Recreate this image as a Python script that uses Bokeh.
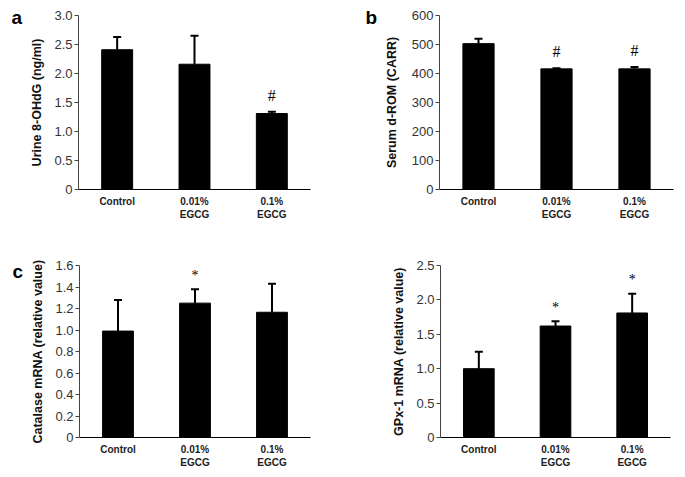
from bokeh.plotting import figure
from bokeh.layouts import column, row
from bokeh.models import ColumnDataSource, Whisker, TeeHead, FixedTicker, FactorRange, Range1d
from bokeh.embed import file_html
from bokeh.resources import INLINE

groups = ["Control", "0.01%\nEGCG", "0.1%\nEGCG"]

a_mean = [2.41, 2.16, 1.31]
a_err = [0.22, 0.49, 0.03]
a_sig = ["", "", "#"]
a_ticks = [0, 0.5, 1.0, 1.5, 2.0, 2.5, 3.0]
a_tick_labels = ["0", "0.5", "1.0", "1.5", "2.0", "2.5", "3.0"]

b_mean = [503, 416, 416]
b_err = [17, 2, 6]
b_sig = ["", "#", "#"]
b_ticks = [0, 100, 200, 300, 400, 500, 600]
b_tick_labels = ["0", "100", "200", "300", "400", "500", "600"]

c_mean = [0.99, 1.25, 1.165]
c_err = [0.29, 0.13, 0.265]
c_sig = ["", "*", ""]
c_ticks = [0, 0.2, 0.4, 0.6, 0.8, 1.0, 1.2, 1.4, 1.6]
c_tick_labels = ["0", "0.2", "0.4", "0.6", "0.8", "1.0", "1.2", "1.4", "1.6"]

d_mean = [1.00, 1.62, 1.81]
d_err = [0.245, 0.07, 0.28]
d_sig = ["", "*", "*"]
d_ticks = [0, 0.5, 1.0, 1.5, 2.0, 2.5]
d_tick_labels = ["0", "0.5", "1.0", "1.5", "2.0", "2.5"]

FONT = "Liberation Sans"


def panel(mean, err, sig, ticks, tick_labels, ylabel, letter, width, height,
          bl, br, bt, bb, label_standoff, sig_offset, sig_size, letter_dx, letter_standoff):
    upper = [m + e for m, e in zip(mean, err)]
    src = ColumnDataSource(dict(x=groups, top=mean, upper=upper, sig=sig))
    p = figure(x_range=FactorRange(*groups, range_padding=0),
               y_range=Range1d(ticks[0], ticks[-1]),
               width=width, height=height, output_backend="svg",
               toolbar_location=None, min_border_left=bl, min_border_right=br,
               min_border_top=bt, min_border_bottom=bb)
    p.outline_line_color = None
    p.xgrid.visible = False
    p.ygrid.visible = False
    p.vbar(x="x", top="top", width=0.4, source=src, fill_color="black",
           line_color="black")
    w = Whisker(base="x", lower="top", upper="upper", source=src,
                line_width=2, line_color="black",
                upper_head=TeeHead(size=8, line_width=2, line_color="black"),
                lower_head=None)
    p.add_layout(w)
    p.text(x="x", y="upper", text="sig", source=src, text_align="center",
           text_baseline="middle", y_offset=sig_offset, text_font=FONT,
           text_font_size=sig_size, text_color="black")
    ya = p.yaxis[0]
    ya.ticker = FixedTicker(ticks=ticks)
    ya.major_label_overrides = {t: l for t, l in zip(ticks, tick_labels)}
    ya.minor_tick_line_color = None
    ya.major_tick_in = 0
    ya.major_tick_out = 4
    ya.major_tick_line_color = "#444"
    ya.axis_line_color = "#444"
    ya.major_label_standoff = 2
    ya.major_label_text_font = FONT
    ya.major_label_text_font_size = "13px"
    ya.major_label_text_color = "#333"
    ya.axis_label = ylabel
    ya.axis_label_text_font = FONT
    ya.axis_label_text_font_size = "12.5px"
    ya.axis_label_text_font_style = "bold"
    ya.axis_label_text_color = "#111"
    ya.axis_label_standoff = label_standoff
    xa = p.xaxis[0]
    xa.major_tick_line_color = None
    xa.minor_tick_line_color = None
    xa.axis_line_color = "black"
    xa.major_label_standoff = 0
    xa.major_label_text_font = FONT
    xa.major_label_text_font_size = "10px"
    xa.major_label_text_font_style = "bold"
    xa.major_label_text_color = "#222"
    xa.major_label_text_line_height = 1.2
    if letter:
        t = p.title
        t.text = letter
        t.align = "left"
        t.vertical_align = "bottom"
        t.offset = letter_dx
        t.text_font = FONT
        t.text_font_size = "19px"
        t.text_font_style = "bold"
        t.text_color = "black"
        try:
            t.standoff = letter_standoff
        except Exception:
            pass
    return p


pa = panel(a_mean, a_err, a_sig, a_ticks, a_tick_labels, "Urine 8-OHdG (ng/ml)", "a",
           361, 248, 78, 51, 15, 59, 7, -16, "16px", -67, -25)
pb = panel(b_mean, b_err, b_sig, b_ticks, b_tick_labels, "Serum d-ROM (CARR)", "b",
           316, 248, 78, 4, 15, 59, 10, -17, "16px", -74, -25)
pc = panel(c_mean, c_err, c_sig, c_ticks, c_tick_labels, "Catalase mRNA (relative value)", "c",
           361, 223, 79, 51, 15, 34, 7, -14, "14px", -67, -33)
pd = panel(d_mean, d_err, d_sig, d_ticks, d_tick_labels, "GPx-1 mRNA (relative value)", "",
           316, 223, 79, 7, 17, 34, 7, -14, "14px", 0, 0)

layout = column(row(pa, pb), row(pc, pd))
open("out.html", "w").write(file_html(layout, INLINE))
